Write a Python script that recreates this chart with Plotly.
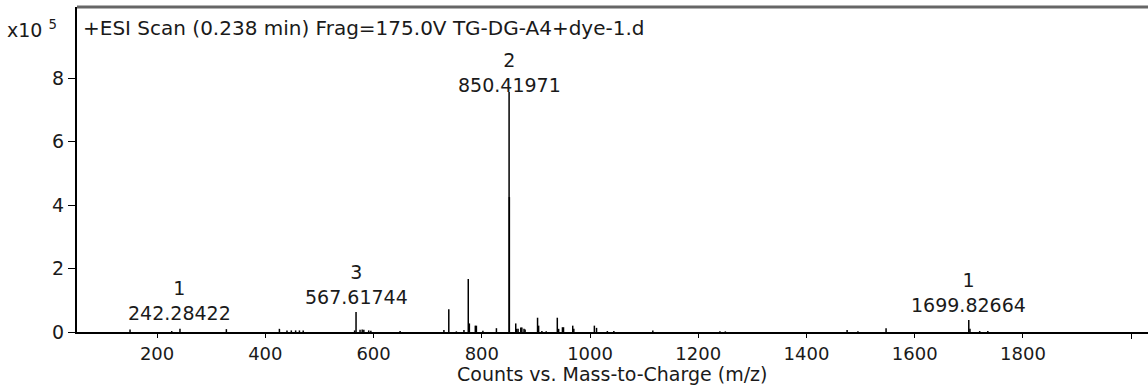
import plotly.graph_objects as go

# ---- data (m/z, intensity in units of 1e5 counts) ----
peak_mz = [150.0, 227.0, 242.28, 328.0, 426.0, 440.0, 448.0, 456.0, 463.0, 470.0,
           565.0, 567.62, 575.0, 579.0, 582.0, 591.0, 595.0, 649.0,
           730.0, 739.0, 753.0, 767.0, 775.0, 777.0, 788.0, 790.0, 802.0, 827.0,
           850.42, 850.92, 862.7, 864.5, 867.0, 872.0, 874.0, 878.0, 880.0,
           903.0, 905.0, 911.0, 919.0, 939.5, 942.0, 949.0, 951.0, 968.0, 970.0,
           1008.0, 1012.0, 1032.0, 1044.0, 1116.0, 1240.0, 1250.0,
           1475.0, 1495.0, 1547.0, 1699.83, 1702.0, 1720.0, 1735.0]
peak_int = [0.08, 0.03, 0.10, 0.09, 0.10, 0.05, 0.05, 0.05, 0.05, 0.05,
            0.05, 0.63, 0.07, 0.08, 0.07, 0.05, 0.04, 0.03,
            0.06, 0.72, 0.02, 0.06, 1.67, 0.27, 0.20, 0.20, 0.04, 0.12,
            7.56, 4.25, 0.27, 0.10, 0.10, 0.14, 0.14, 0.10, 0.08,
            0.45, 0.20, 0.03, 0.02, 0.45, 0.10, 0.15, 0.15, 0.20, 0.10,
            0.20, 0.13, 0.03, 0.03, 0.05, 0.02, 0.02,
            0.06, 0.02, 0.12, 0.38, 0.10, 0.03, 0.03]

label_mz = [242.28, 567.62, 850.42, 1699.83]
label_charge = ["1", "3", "2", "1"]
label_text = ["242.28422", "567.61744", "850.41971", "1699.82664"]

y_ticks = [0, 2, 4, 6, 8]
x_ticks = [200, 400, 600, 800, 1000, 1200, 1400, 1600, 1800]
x_minor_ticks = [2000]

title_text = "+ESI Scan (0.238 min) Frag=175.0V TG-DG-A4+dye-1.d"
x_title = "Counts vs. Mass-to-Charge (m/z)"

# ---- styles ----
label_yshift = [3, 2, -6, 2]
FONT = "DejaVu Sans, sans-serif"
TXT = "#1a1a1a"

# stick spectrum
xs, ys = [], []
for m, h in zip(peak_mz, peak_int):
    xs += [m, m, None]
    ys += [0, h, None]

fig = go.Figure()
fig.add_trace(go.Scatter(x=xs, y=ys, mode="lines",
                         line=dict(color="black", width=1.5),
                         hoverinfo="skip", showlegend=False))

for m, c, t, s in zip(label_mz, label_charge, label_text, label_yshift):
    h = peak_int[peak_mz.index(m)]
    fig.add_annotation(x=m, y=h, xref="x", yref="y", text=f"{c}<br>{t}",
                       showarrow=False, yanchor="bottom", xanchor="center",
                       yshift=s, font=dict(family=FONT, size=19, color=TXT))

# title inside plot
fig.add_annotation(x=0, y=1, xref="paper", yref="paper", text=title_text,
                   showarrow=False, xanchor="left", yanchor="top", xshift=4, yshift=-7,
                   font=dict(family=FONT, size=20, color=TXT))
# multiplier
fig.add_annotation(x=0, y=1, xref="paper", yref="paper",
                   text="x10 <sup>5</sup>",
                   showarrow=False, xanchor="right", yanchor="top", xshift=-18, yshift=-8,
                   font=dict(family=FONT, size=19, color=TXT))
# x-axis title
fig.add_annotation(x=0.5, y=0, xref="paper", yref="paper", text=x_title,
                   showarrow=False, xanchor="center", yanchor="top", yshift=-30,
                   borderpad=0, font=dict(family=FONT, size=19, color=TXT))

# top frame line
fig.add_shape(type="line", xref="paper", yref="paper", x0=0, x1=1, y0=1, y1=1,
              line=dict(color="#666666", width=3))

fig.update_layout(
    width=1148, height=385,
    margin=dict(l=77, r=0, t=7, b=53),
    paper_bgcolor="white", plot_bgcolor="white",
    font=dict(family=FONT, size=19, color=TXT),
    xaxis=dict(range=[52, 2031], tickvals=x_ticks,
               showgrid=False, zeroline=False, showline=True, linecolor="black",
               linewidth=2, ticks="outside", ticklen=4, tickcolor="black",
               tickfont=dict(size=18),
               minor=dict(tickvals=x_minor_ticks, ticks="outside", ticklen=5,
                          tickcolor="black", showgrid=False)),
    yaxis=dict(range=[0, 10.24], tickvals=y_ticks,
               showgrid=False, zeroline=False, showline=True, linecolor="black",
               linewidth=2, ticks="outside", ticklen=7, tickcolor="black",
               tickfont=dict(size=19)),
)

fig.write_html("out.html")
